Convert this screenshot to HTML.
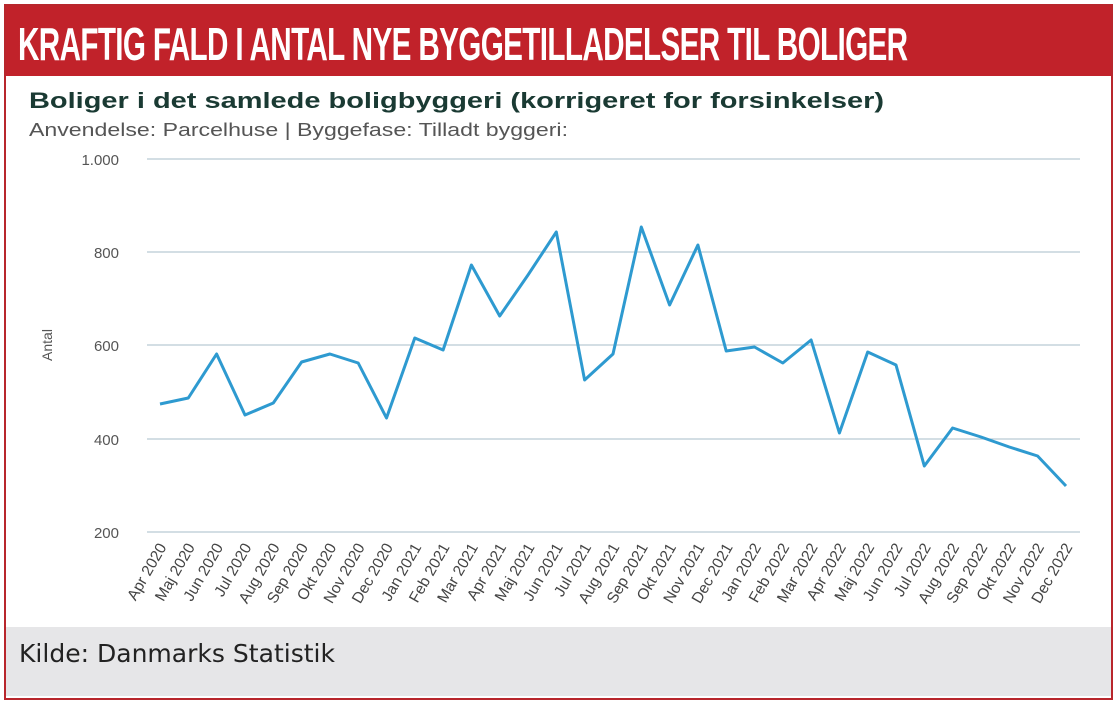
<!DOCTYPE html>
<html><head><meta charset="utf-8"><style>
html,body{margin:0;padding:0;background:#fff;}
body{width:1116px;height:702px;position:relative;overflow:hidden;font-family:"Liberation Sans",sans-serif;}
.frame{position:absolute;left:4px;top:4px;width:1105px;height:692px;border:2px solid #b8262c;box-sizing:content-box;}
.hdr{position:absolute;left:6px;top:6px;width:1105px;height:70px;background:#c1222a;}
.hdr span{position:absolute;left:12px;top:8px;color:#fff;font-family:"Liberation Sans Narrow","Liberation Sans",sans-serif;font-weight:bold;font-size:46px;letter-spacing:-1px;transform:scaleX(0.645);transform-origin:left;white-space:nowrap;line-height:60px;}
.ftr{position:absolute;left:6px;top:627px;width:1105px;height:69px;background:#e6e6e8;}
</style></head><body>
<div class="frame"></div>
<div class="hdr"><span>KRAFTIG FALD I ANTAL NYE BYGGETILLADELSER TIL BOLIGER</span></div>
<div class="ftr"></div>
<svg style="position:absolute;left:0;top:0" width="1116" height="702">
<text x="29" y="108" font-size="22" font-weight="bold" fill="#1a3a33" textLength="855" lengthAdjust="spacingAndGlyphs">Boliger i det samlede boligbyggeri (korrigeret for forsinkelser)</text>
<text x="29" y="136" font-size="18" fill="#555" textLength="539" lengthAdjust="spacingAndGlyphs">Anvendelse: Parcelhuse | Byggefase: Tilladt byggeri:</text>
<g stroke="#b9c9d3" stroke-width="1.2">
<line x1="147" x2="1080" y1="159" y2="159"/><line x1="147" x2="1080" y1="252" y2="252"/>
<line x1="147" x2="1080" y1="345" y2="345"/><line x1="147" x2="1080" y1="439" y2="439"/>
<line x1="147" x2="1080" y1="532" y2="532"/></g>
<g font-size="15" fill="#555" text-anchor="end">
<text x="119" y="165">1.000</text><text x="119" y="258">800</text><text x="119" y="351">600</text><text x="119" y="445">400</text><text x="119" y="538">200</text></g>
<text transform="translate(52,345) rotate(-90)" font-size="14" fill="#555" text-anchor="middle">Antal</text>
<polyline fill="none" stroke="#2e9ad0" stroke-width="3" stroke-linejoin="round" points="
160,404 188.3,398 216.6,354 245,415 273.3,403 301.6,362 329.9,354 358.2,363 386.5,418 414.8,338 443.1,350 471.4,265 499.7,316 528,275 556.3,232 584.6,380 613,354 641.3,227 669.6,305 697.9,245 726.2,351 754.5,347 782.8,363 811.1,340 839.4,433 867.7,352 896,365 924.3,466 952.6,428 981,437 1009.3,447 1037.6,456 1066,486"/>
<g font-size="15.5" fill="#444" text-anchor="end" id="xl"></g>
<text x="19" y="662" font-size="25" fill="#222" font-family="DejaVu Sans,sans-serif" textLength="316" lengthAdjust="spacingAndGlyphs">Kilde: Danmarks Statistik</text>
</svg>
<script>
var L=["Apr 2020","Maj 2020","Jun 2020","Jul 2020","Aug 2020","Sep 2020","Okt 2020","Nov 2020","Dec 2020","Jan 2021","Feb 2021","Mar 2021","Apr 2021","Maj 2021","Jun 2021","Jul 2021","Aug 2021","Sep 2021","Okt 2021","Nov 2021","Dec 2021","Jan 2022","Feb 2022","Mar 2022","Apr 2022","Maj 2022","Jun 2022","Jul 2022","Aug 2022","Sep 2022","Okt 2022","Nov 2022","Dec 2022"];
var g=document.getElementById('xl'),s='';
L.forEach(function(t,i){var x=167+i*28.31;s+='<text transform="translate('+x+',547) rotate(-60)">'+t+'</text>';});
g.innerHTML=s;
</script>
</body></html>
